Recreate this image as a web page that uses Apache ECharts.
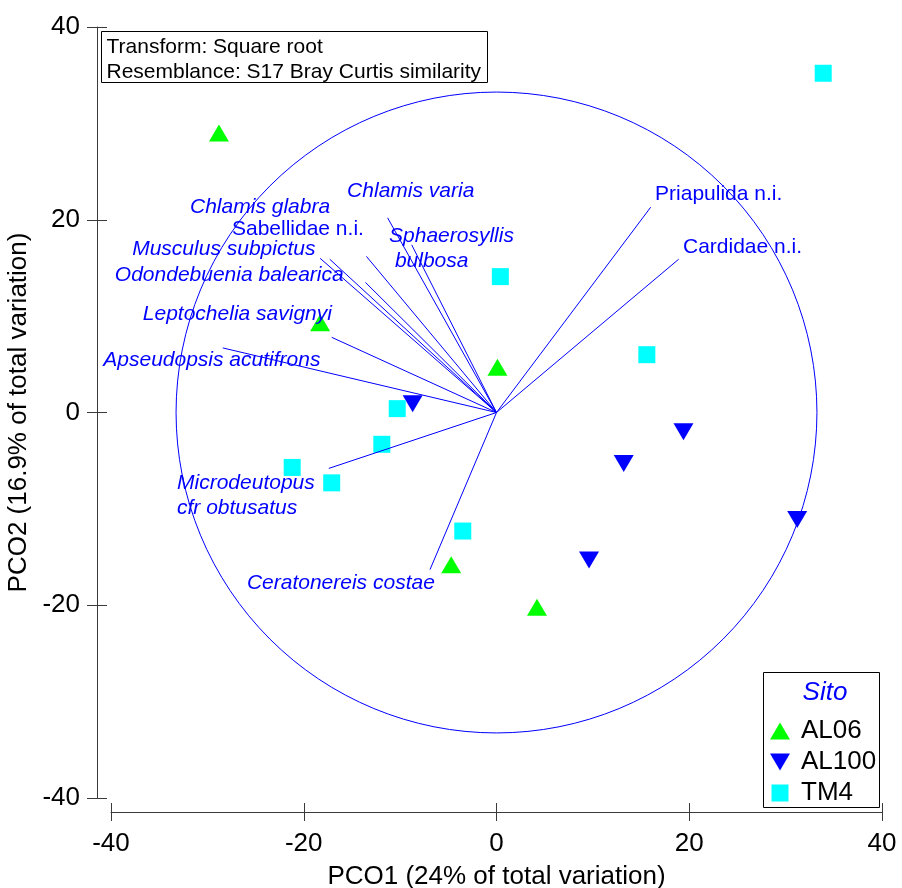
<!DOCTYPE html>
<html>
<head>
<meta charset="utf-8">
<style>
  html, body { margin: 0; padding: 0; background: #fff; }
  #chart { width: 902px; height: 888px; }
</style>
<script src="https://cdn.jsdelivr.net/npm/echarts@6/dist/echarts.min.js"></script>
</head>
<body>
<div id="chart"></div>
<script>
// PCO scores per site (PCO1, PCO2)
const groupNames = ['AL06', 'AL100', 'TM4'];
const al06 = [[-28.8, 29.0], [-18.3, 9.3], [0.1, 4.7], [-4.7, -15.8], [4.2, -20.2]];
const al100 = [[-8.7, 0.9], [13.2, -5.3], [19.4, -2.0], [31.2, -11.1], [9.6, -15.3]];
const tm4 = [[33.9, 35.2], [0.4, 14.1], [15.6, 6.0], [-10.3, 0.4], [-11.9, -3.3],
             [-21.2, -5.7], [-17.1, -7.3], [-3.5, -12.3]];

// Species correlation vectors (end points in PCO units)
const vectorNames = [
  'Chlamis varia', 'Sphaerosyllis\n bulbosa', 'Chlamis glabra', 'Sabellidae n.i.',
  'Musculus subpictus', 'Odondebuenia balearica', 'Leptochelia savignyi',
  'Apseudopsis acutifrons', 'Microdeutopus\ncfr obtusatus', 'Ceratonereis costae',
  'Priapulida n.i.', 'Cardidae n.i.'
];
const vectorEnds = [
  [-11.3, 20.2], [-8.8, 17.4], [-17.3, 15.9], [-13.5, 16.2],
  [-18.3, 16.0], [-13.6, 13.5], [-17.1, 7.8],
  [-28.4, 6.7], [-17.4, -5.8], [-6.9, -16.3],
  [16.0, 21.3], [18.9, 15.9]
];
const vectorItalic = [true, true, true, false, true, true, true, true, true, true, false, false];
// where each vector's name is written (left edge, vertical middle), PCO units
const vectorLabelAt = [
  [-15.5, 23.0], [-11.15, 17.0], [-31.8, 21.3], [-27.45, 19.0],
  [-37.8, 16.9], [-39.6, 14.2], [-36.7, 10.2],
  [-40.8, 5.45], [-33.15, -8.65], [-25.9, -17.7],
  [16.45, 22.6], [19.35, 17.1]
];
const circleRadius = 33.25;

const axisMin = -40, axisMax = 40, axisStep = 20;

const FONT = '"Liberation Sans", Arial, sans-serif';
const BLUE = '#0000ff';
const AXIS_COLOR = '#3a3a3a';

const chart = echarts.init(document.getElementById('chart'), null, { renderer: 'canvas' });

const baseAxis = {
  type: 'value', min: axisMin, max: axisMax, interval: axisStep,
  splitLine: { show: false }
};

// legend glyphs: up triangle, down triangle, square
const legendIcons = [
  'path://M10,0 L20,17 L0,17 Z',
  'path://M0,0 L20,0 L10,17 Z',
  'path://M0,0 L16,0 L16,16 L0,16 Z'
];

const option = {
  animation: false,
  backgroundColor: '#fff',
  grid: { left: 111, right: 20, top: 27, bottom: 90, containLabel: false, outerBoundsMode: 'none' },
  xAxis: [
    Object.assign({}, baseAxis, {
      position: 'bottom', offset: 14,
      name: 'PCO1 (24% of total variation)', nameLocation: 'middle', nameGap: 52,
      nameTextStyle: { fontSize: 26, fontFamily: FONT, color: '#000' },
      axisLine: { show: true, onZero: false, lineStyle: { color: AXIS_COLOR, width: 1 } },
      axisTick: { show: true, inside: false, length: 9, lineStyle: { color: AXIS_COLOR } },
      axisLabel: { fontSize: 26, fontFamily: FONT, color: '#000', margin: 19 }
    }),
    Object.assign({}, baseAxis, {
      position: 'bottom', offset: 14,
      axisLine: { show: false, onZero: false },
      axisTick: { show: true, inside: true, length: 9, lineStyle: { color: AXIS_COLOR } },
      axisLabel: { show: false }
    })
  ],
  yAxis: [
    Object.assign({}, baseAxis, {
      position: 'left', offset: 14,
      name: 'PCO2 (16.9% of total variation)', nameLocation: 'middle', nameGap: 58,
      nameTextStyle: { fontSize: 26, fontFamily: FONT, color: '#000' },
      axisLine: { show: true, onZero: false, lineStyle: { color: AXIS_COLOR, width: 1 } },
      axisTick: { show: true, inside: false, length: 10, lineStyle: { color: AXIS_COLOR } },
      axisLabel: { fontSize: 26, fontFamily: FONT, color: '#000', margin: 17 }
    }),
    Object.assign({}, baseAxis, {
      position: 'left', offset: 14,
      axisLine: { show: false, onZero: false },
      axisTick: { show: true, inside: true, length: 10, lineStyle: { color: AXIS_COLOR } },
      axisLabel: { show: false }
    })
  ],
  legend: {
    orient: 'vertical', left: 770, top: 718,
    itemWidth: 20, itemHeight: 17, itemGap: 5, padding: 0,
    data: groupNames.map(function (n, i) { return { name: n, icon: legendIcons[i] }; }),
    textStyle: { fontSize: 26, fontFamily: FONT, color: '#000', padding: [0, 0, 0, 6] }
  },
  series: [
    {
      name: 'AL06', type: 'scatter', data: al06,
      symbol: 'triangle', symbolSize: [20, 17],
      itemStyle: { color: '#00ff00', opacity: 1 }, z: 2
    },
    {
      name: 'AL100', type: 'scatter', data: al100,
      symbol: 'triangle', symbolRotate: 180, symbolSize: [20, 17],
      itemStyle: { color: BLUE, opacity: 1 }, z: 2
    },
    {
      name: 'TM4', type: 'scatter', data: tm4,
      symbol: 'rect', symbolSize: 17,
      itemStyle: { color: '#00ffff', opacity: 1 }, z: 2
    },
    {
      // unit correlation circle
      type: 'custom', z: 3, clip: false, silent: true,
      data: [[0, 0, circleRadius]],
      renderItem: function (params, api) {
        const c = api.coord([api.value(0), api.value(1)]);
        const r = api.size([api.value(2), 0])[0];
        return {
          type: 'circle',
          shape: { cx: c[0], cy: c[1], r: r },
          style: { fill: null, stroke: BLUE, lineWidth: 1 }
        };
      }
    },
    {
      // species vectors from the origin
      type: 'custom', z: 4, clip: false, silent: true,
      data: vectorEnds,
      renderItem: function (params, api) {
        const o = api.coord([0, 0]);
        const e = api.coord([api.value(0), api.value(1)]);
        return {
          type: 'line',
          shape: { x1: o[0], y1: o[1], x2: e[0], y2: e[1] },
          style: { stroke: BLUE, lineWidth: 1 }
        };
      }
    },
    {
      // species names
      type: 'custom', z: 5, clip: false, silent: true,
      data: vectorLabelAt.map(function (p, i) { return [p[0], p[1], i]; }),
      renderItem: function (params, api) {
        const idx = api.value(2);
        const p = api.coord([api.value(0), api.value(1)]);
        return {
          type: 'text',
          x: p[0], y: p[1],
          style: {
            text: vectorNames[idx],
            fill: BLUE,
            fontSize: 21,
            fontFamily: FONT,
            fontStyle: vectorItalic[idx] ? 'italic' : 'normal',
            align: 'left',
            verticalAlign: 'middle',
            lineHeight: 25
          }
        };
      }
    }
  ],
  graphic: [
    {
      type: 'group', left: 101, top: 31,
      children: [
        { type: 'rect', shape: { x: 0, y: 0, width: 386, height: 51 },
          style: { fill: '#fff', stroke: '#000', lineWidth: 1 } },
        { type: 'text', x: 5, y: 16,
          style: { text: 'Transform: Square root', fill: '#000', fontSize: 21,
                   fontFamily: FONT, verticalAlign: 'middle' } },
        { type: 'text', x: 5, y: 41,
          style: { text: 'Resemblance: S17 Bray Curtis similarity', fill: '#000', fontSize: 21,
                   fontFamily: FONT, verticalAlign: 'middle' } }
      ],
      z: 10
    },
    {
      type: 'rect', left: 763, top: 672, z: 1,
      shape: { width: 116, height: 135 },
      style: { fill: '#fff', stroke: '#000', lineWidth: 1 }
    },
    {
      type: 'text', z: 11,
      x: 825, y: 693,
      style: { text: 'Sito', fill: BLUE, fontSize: 26, fontStyle: 'italic',
               fontFamily: FONT, align: 'center', verticalAlign: 'middle' }
    }
  ]
};

chart.setOption(option);
</script>
</body>
</html>
